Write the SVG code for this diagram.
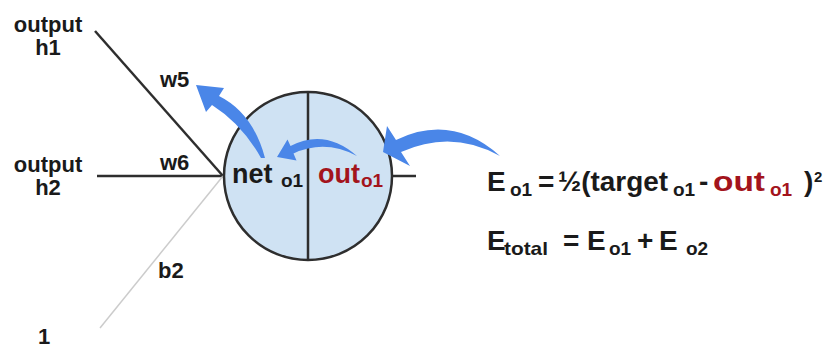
<svg xmlns="http://www.w3.org/2000/svg" width="826" height="349" viewBox="0 0 826 349">
<style>
text{font-family:"Liberation Sans",Arial,sans-serif;font-weight:bold;fill:#1a1a1a}
.lbl{font-size:22px}
.eq{font-size:28px}
.sub{font-size:19px}
.red{fill:#a3141c}
.edge{stroke:#2e2e2e;stroke-width:2.5;fill:none}
.arrow{fill:#4a86e8}
</style>
<rect width="826" height="349" fill="#ffffff"/>
<g id="connectors">
<line class="edge" x1="95" y1="31" x2="223" y2="176"/>
<line class="edge" x1="97" y1="176" x2="223" y2="176"/>
<line x1="100" y1="328" x2="223" y2="176" stroke="#cccccc" stroke-width="1.5"/>
<line class="edge" x1="392" y1="176" x2="416" y2="176"/>
</g>
<g id="input-h1"><text class="lbl" x="48" y="32" text-anchor="middle">output</text><text class="lbl" x="48" y="55" text-anchor="middle">h1</text></g>
<g id="input-h2"><text class="lbl" x="48" y="172" text-anchor="middle">output</text><text class="lbl" x="48" y="195" text-anchor="middle">h2</text></g>
<g id="input-bias"><text class="lbl" x="44" y="344" text-anchor="middle">1</text></g>
<g id="labels">
<text class="lbl" x="160" y="87">w5</text>
<text class="lbl" x="160" y="170">w6</text>
<text class="lbl" x="158" y="278">b2</text>
</g>
<g id="node-o1">
<circle cx="308" cy="176" r="84" fill="#cfe2f3" stroke="#2e2e2e" stroke-width="2.5"/>
<line class="edge" x1="308" y1="92" x2="308" y2="260"/>
<text x="232" y="183" style="font-size:27px">net<tspan x="281" y="187" class="sub">o1</tspan></text>
<text x="318" y="183" class="red" style="font-size:27px">out<tspan x="361" y="187" class="sub">o1</tspan></text>
</g>
<g id="arrows">
<path class="arrow" d="M265,158 Q253,113 219,96 L224,88 L196,85 L206,112 L212,105 Q242,124 261,158 Z"/>
<path class="arrow" d="M357,156 Q325,128 290.5,146 L287.5,139.5 L277,157 L296.5,160.5 L293.5,153.5 Q325,139 357,156 Z"/>
<path class="arrow" d="M500,156 Q452,113 396,140 L387,126 L383,152 L410,166 L401,152 Q452,129 500,156 Z"/>
</g>
<g id="equations">
<text class="eq" x="487" y="191">E<tspan class="sub" x="510" y="196">o1</tspan><tspan x="538" y="191">=</tspan><tspan x="558" y="191" textLength="110" lengthAdjust="spacingAndGlyphs">½(target</tspan><tspan class="sub" x="673" y="196">o1</tspan><tspan x="699" y="191">-</tspan><tspan class="red" x="713" y="191" textLength="52" lengthAdjust="spacingAndGlyphs">out</tspan><tspan class="sub red" x="770" y="196">o1</tspan><tspan x="804" y="191">)</tspan><tspan x="814" y="182" style="font-size:15px">2</tspan></text>
<text class="eq" x="487" y="250">E<tspan x="504" y="255" class="sub" textLength="44" lengthAdjust="spacingAndGlyphs">total</tspan><tspan x="563" y="250">=</tspan><tspan x="587" y="250">E</tspan><tspan class="sub" x="609" y="255">o1</tspan><tspan x="637" y="250">+</tspan><tspan x="659" y="250">E</tspan><tspan class="sub" x="686" y="255">o2</tspan></text>
</g>
</svg>
